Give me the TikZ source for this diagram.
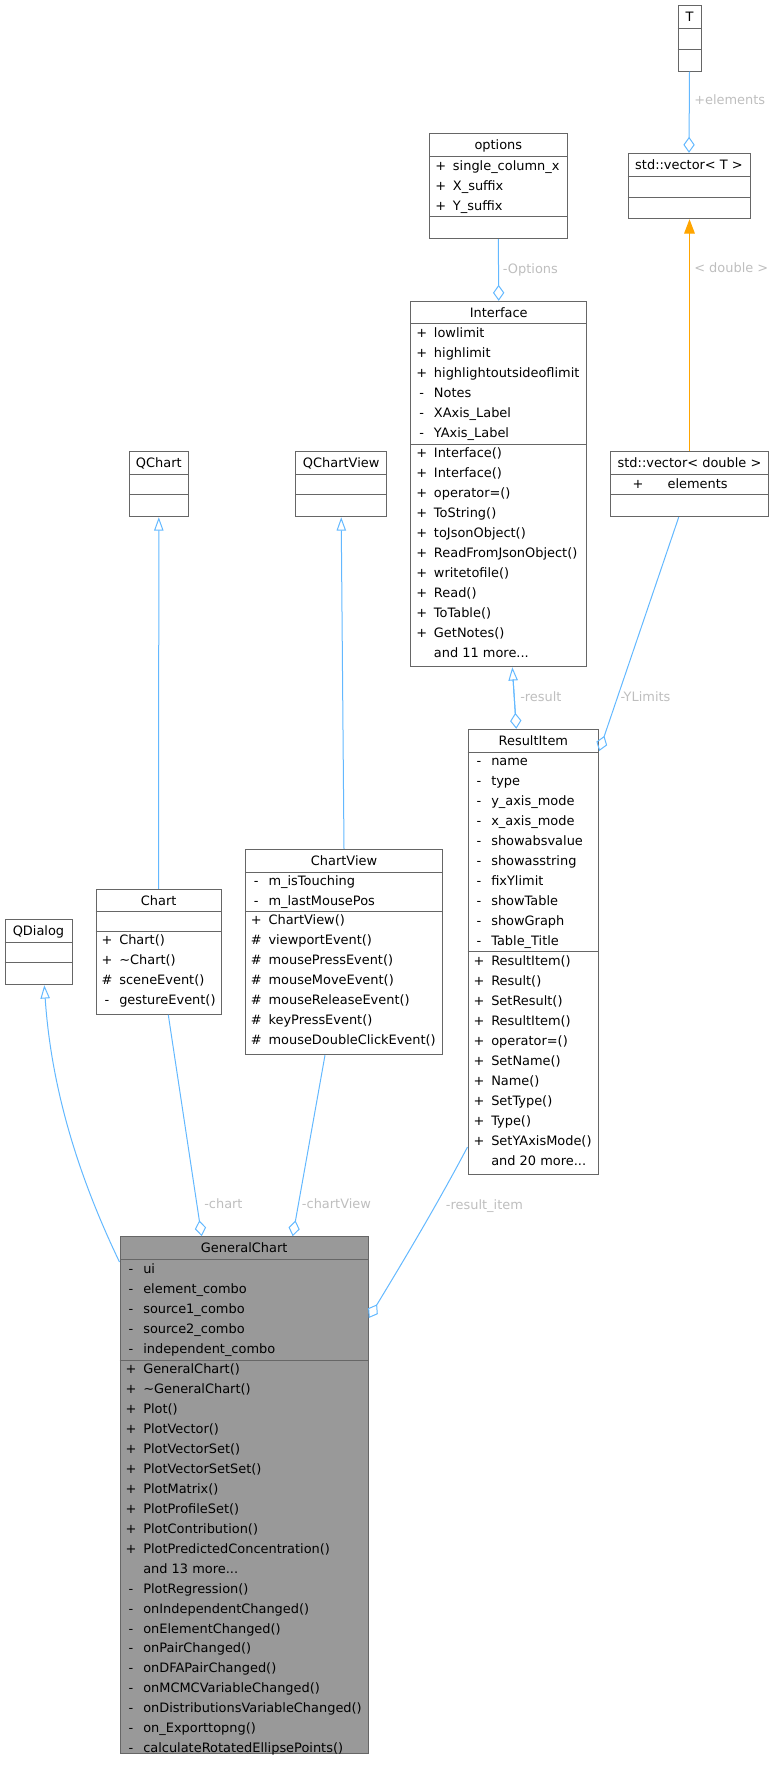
\documentclass[tikz,border=0pt]{standalone}
\usepackage{fontspec}
\setmainfont{DejaVu Sans}
\usetikzlibrary{arrows.meta,fit}
\definecolor{edgeblue}{HTML}{63B8FF}
\definecolor{boxgray}{HTML}{666666}
\definecolor{lblgray}{HTML}{BEBEBE}
\definecolor{mainfill}{HTML}{999999}
\definecolor{inhorange}{HTML}{FFA500}
\tikzset{
  cls/.style={draw=boxgray, line width=0.75pt, inner sep=0pt},
  sepline/.style={draw=boxgray, line width=0.75pt},
  txt/.style={font=\fontsize{9.7}{11}\selectfont, inner sep=0pt, text height=7pt, text depth=0pt},
  mem/.style={txt, anchor=west},
  elabel/.style={txt, anchor=west, text=lblgray},
  rel/.style={draw=edgeblue, line width=0.75pt},
  agg/.style={rel, -{Diamond[open, length=12pt, width=8.5pt]}},
  gen/.style={rel, -{Triangle[open, length=10pt, width=7pt]}},
  tmpl/.style={draw=inhorange, line width=0.75pt, -{Triangle[length=10.8pt, width=8pt]}},
}
\newcommand\tdots{...}
% box: [fill] name, left, right, top, bottom
\newcommand\ubox[6][white]{%
  \path (#3,#5) coordinate (#2-nw) (#4,#6) coordinate (#2-se);
  \node[cls, fill=#1, fit=(#2-nw)(#2-se)] (#2) {};}
% separator: box name, y
\newcommand\usep[2]{\draw[sepline] (#1.west |- 0,#2) -- (#1.east |- 0,#2);}
% rows: prefix, left x, first y, pitch, list sym/name
\newcommand\urows[5]{%
  \foreach \vs/\vn [count=\i from 0] in {#5}{%
    \node[txt] (#1-s\i) at (#2+11,#3+\i*#4) {\vs};
    \node[mem] (#1-m\i) at (#2+23,#3+\i*#4) {\vn};}}
\begin{document}
\begin{tikzpicture}[x=0.75pt, y=-0.75pt]
\useasboundingbox (0,0) rectangle (773,1768);

% ---------- T
\ubox{T}{678}{701}{5}{71}
\node[txt] (T-title) at (689.5,16.5) {T};
\usep{T}{28} \usep{T}{49}

% ---------- std::vector< T >
\ubox{vecT}{628}{750}{153.3}{218.7}
\node[txt] (vecT-title) at (689,165) {std::vector< T >};
\usep{vecT}{176.7} \usep{vecT}{197.3}

% ---------- options
\ubox{options}{429.7}{567}{133.3}{238.7}
\node[txt] (options-title) at (498.35,144.8) {options};
\usep{options}{156.3} \usep{options}{216.7}
\urows{opt}{429.7}{165.5}{20}{+/single\_column\_x, +/X\_suffix, +/Y\_suffix}

% ---------- Interface
\ubox{iface}{410.7}{586.7}{301.3}{666.7}
\node[txt] (iface-title) at (498.7,312.5) {Interface};
\usep{iface}{323.7} \usep{iface}{444}
\urows{ifa}{410.7}{332.5}{20}{+/lowlimit, +/highlimit, +/highlightoutsideoflimit, -/Notes, -/XAxis\_Label, -/YAxis\_Label}
\urows{ifm}{410.7}{452.7}{20}{+/Interface(), +/Interface(), +/operator=(), +/ToString(), +/toJsonObject(), +/ReadFromJsonObject(), +/writetofile(), +/Read(), +/ToTable(), +/GetNotes(), {}/and 11 more\tdots}

% ---------- std::vector< double >
\ubox{vecD}{610.7}{768.3}{451.7}{516.7}
\node[txt] (vecD-title) at (689.5,463) {std::vector< double >};
\usep{vecD}{474.3} \usep{vecD}{494.3}
\node[txt] (vecD-s0) at (638,483.5) {+};
\node[mem] (vecD-m0) at (667.3,483.5) {elements};

% ---------- QChart
\ubox{qchart}{129.3}{188.3}{451.3}{516.7}
\node[txt] (qchart-title) at (158.8,462.8) {QChart};
\usep{qchart}{474.3} \usep{qchart}{494.3}

% ---------- QChartView
\ubox{qchartview}{295.7}{386.7}{451.3}{516.7}
\node[txt] (qchartview-title) at (341.2,462.8) {QChartView};
\usep{qchartview}{474.3} \usep{qchartview}{494.3}

% ---------- ResultItem
\ubox{ritem}{468}{598.7}{729.3}{1174.3}
\node[txt] (ritem-title) at (533.35,740.7) {ResultItem};
\usep{ritem}{752} \usep{ritem}{951.7}
\urows{ria}{468}{761}{20}{-/name, -/type, -/y\_axis\_mode, -/x\_axis\_mode, -/showabsvalue, -/showasstring, -/fixYlimit, -/showTable, -/showGraph, -/Table\_Title}
\urows{rim}{468}{960.5}{20}{+/ResultItem(), +/Result(), +/SetResult(), +/ResultItem(), +/operator=(), +/SetName(), +/Name(), +/SetType(), +/Type(), +/SetYAxisMode(), {}/and 20 more\tdots}

% ---------- ChartView
\ubox{chartview}{245.3}{442.7}{849.3}{1054.7}
\node[txt] (chartview-title) at (344,860.7) {ChartView};
\usep{chartview}{872} \usep{chartview}{911.7}
\urows{cva}{245.3}{880.7}{20}{-/m\_isTouching, -/m\_lastMousePos}
\urows{cvm}{245.3}{920.3}{20}{+/ChartView(), \#/viewportEvent(), \#/mousePressEvent(), \#/mouseMoveEvent(), \#/mouseReleaseEvent(), \#/keyPressEvent(), \#/mouseDoubleClickEvent()}

% ---------- Chart
\ubox{chart}{96}{221.3}{889.3}{1014.3}
\node[txt] (chart-title) at (158.65,900.5) {Chart};
\usep{chart}{911.7} \usep{chart}{931.7}
\urows{chm}{96}{940.3}{20}{+/Chart(), +/\textasciitilde Chart(), \#/sceneEvent(), -/gestureEvent()}

% ---------- QDialog
\ubox{qdialog}{5}{72}{919.3}{984.7}
\node[txt] (qdialog-title) at (38.5,931) {QDialog};
\usep{qdialog}{942.7} \usep{qdialog}{962.7}

% ---------- GeneralChart
\ubox[mainfill]{gc}{120}{368.3}{1236.7}{1753}
\node[txt] (gc-title) at (244.15,1248) {GeneralChart};
\usep{gc}{1259.3} \usep{gc}{1360}
\urows{gca}{120}{1269}{20}{-/ui, -/element\_combo, -/source1\_combo, -/source2\_combo, -/independent\_combo}
\urows{gcm}{120}{1369}{19.95}{+/GeneralChart(), +/\textasciitilde GeneralChart(), +/Plot(), +/PlotVector(), +/PlotVectorSet(), +/PlotVectorSetSet(), +/PlotMatrix(), +/PlotProfileSet(), +/PlotContribution(), +/PlotPredictedConcentration(), {}/and 13 more\tdots, -/PlotRegression(), -/onIndependentChanged(), -/onElementChanged(), -/onPairChanged(), -/onDFAPairChanged(), -/onMCMCVariableChanged(), -/onDistributionsVariableChanged(), -/on\_Exporttopng(), -/calculateRotatedEllipsePoints()}

% ---------- connectors
\draw[agg] (T.south) -- (vecT.north);
\node[elabel] (l-elements) at (694,100) {+elements};

\draw[tmpl] (vecD.north) -- (vecD.north |- vecT.south);
\node[elabel] (l-double) at (694,268) {< double >};

\draw[agg] (options.south) -- (iface.north);
\node[elabel] (l-options) at (502.7,268.7) {-Options};

\draw[gen] (chart.north) -- (qchart.south);
\draw[gen] (chartview.north) -- (qchartview.south);

\coordinate (qd-in) at (qdialog.south -| 44.3,0);
\coordinate (gc-left) at (gc.west |- 0,1262);
\draw[gen] (gc-left) .. controls (85,1190) and (52,1100) .. (qd-in);

\coordinate (ch-out) at (chart.south -| 168.3,0);
\coordinate (gc-in1) at (gc.north -| 201.7,0);
\draw[agg] (ch-out) -- (gc-in1);
\node[elabel] (l-chart) at (204,1204) {-chart};

\coordinate (cv-out) at (chartview.south -| 325,0);
\coordinate (gc-in2) at (gc.north -| 292.7,0);
\draw[agg] (cv-out) -- (gc-in2);
\node[elabel] (l-chartview) at (301.7,1204) {-chartView};

\coordinate (if-b) at (iface.south -| 512.3,0);
\coordinate (ri-t) at (ritem.north -| 516.3,0);
\draw[gen, shorten <=11pt] (ri-t) -- (if-b);
\draw[agg, shorten <=9pt] (if-b) -- (ri-t);
\node[elabel] (l-result) at (520,696.7) {-result};

\coordinate (vd-out) at (vecD.south -| 678.7,0);
\coordinate (ri-r) at (ritem.east |- 0,751);
\draw[agg] (vd-out) -- (ri-r);
\node[elabel] (l-ylimits) at (620.3,696.7) {-YLimits};

\coordinate (ri-l) at (ritem.west |- 0,1147);
\coordinate (gc-r) at (gc.east |- 0,1318);
\draw[agg] (ri-l) .. controls (438,1203) and (404,1260) .. (gc-r);
\node[elabel] (l-resitem) at (445.7,1205) {-result\_item};
\end{tikzpicture}
\end{document}
